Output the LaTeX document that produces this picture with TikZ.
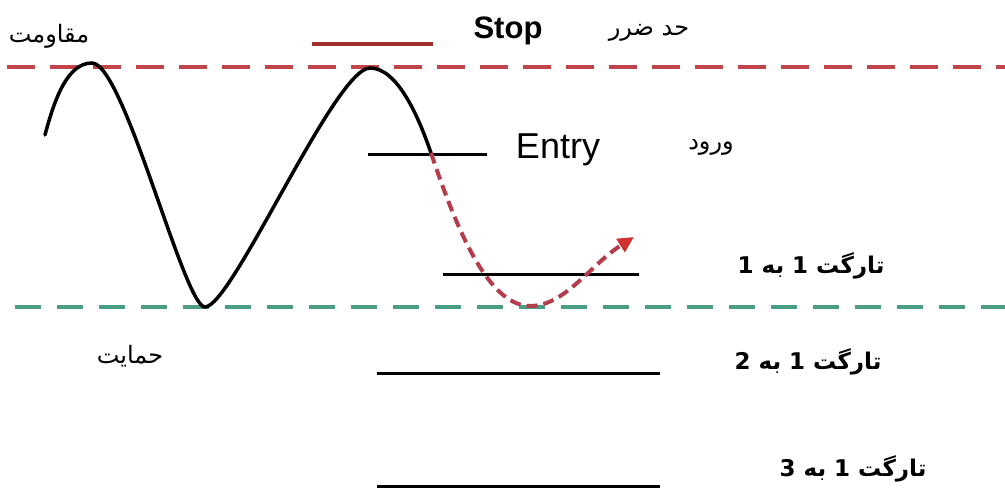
\documentclass[tikz,border=0pt]{standalone}
\usepackage{fontspec}
\setmainfont{Liberation Sans}
\newfontfamily\arabicfont[Script=Arabic]{DejaVu Sans}
\TeXXeTstate=1
\usetikzlibrary{arrows.meta}
\definecolor{resred}{HTML}{C04448}
\definecolor{stopred}{HTML}{A0302E}
\definecolor{supgreen}{HTML}{4A9E85}
\definecolor{pathred}{HTML}{B43C4C}
\definecolor{tipred}{HTML}{D03030}
\tikzset{
  resline/.style={draw=resred, line width=4pt, dash pattern=on 28pt off 15pt},
  supline/.style={draw=supgreen, line width=4pt, dash pattern=on 26pt off 16pt},
  level/.style={draw=black, line width=3pt},
  stoplevel/.style={draw=stopred, line width=4pt},
  wave/.style={draw=black, line width=3.5pt, line cap=round},
  move/.style={draw=pathred, line width=4pt, dash pattern=on 11pt off 6pt,
    -{Triangle[length=16pt,width=15pt,color=tipred]}},
  artxt/.style={font=\arabicfont\fontsize{24}{28}\selectfont, inner sep=0pt},
  tgtxt/.style={font=\arabicfont\bfseries\fontsize{23}{27}\selectfont, inner sep=0pt},
  entxt/.style={font=\fontsize{36}{42}\selectfont, inner sep=0pt},
}
\begin{document}
\begin{tikzpicture}[x=1pt,y=-1pt]
\useasboundingbox[fill=white] (0,0) rectangle (1005,489);
% horizontal levels
\coordinate (rA) at (7,67);   \coordinate (rB) at (1005,67);
\coordinate (gA) at (15,307); \coordinate (gB) at (1005,307);
\coordinate (sA) at (312,44); \coordinate (sB) at (433,44);
\coordinate (eA) at (368,155); \coordinate (eB) at (487,155);
\coordinate (aA) at (443,275); \coordinate (aB) at (639,275);
\coordinate (bA) at (377,373); \coordinate (bB) at (660,373);
\coordinate (cA) at (377,486); \coordinate (cB) at (660,486);
\draw[resline] (rA) -- (rB);
\draw[supline] (gA) -- (gB);
\draw[stoplevel] (sA) -- (sB);
\draw[level] (eA) -- (eB);
\draw[level] (aA) -- (aB);
\draw[level] (bA) -- (bB);
\draw[level] (cA) -- (cB);
% wave
\coordinate (w0) at (45,135);
\coordinate (p1) at (92,63);
\coordinate (t1) at (205,307);
\coordinate (p2) at (370,68);
\coordinate (en) at (431,153);
\coordinate (t2) at (530,306);
\coordinate (tip) at (634,237);
\draw[wave] (w0) .. controls (55,97) and (68,63) .. (p1)
  .. controls (124,63) and (184,307) .. (t1)
  .. controls (232,307) and (335,68) .. (p2)
  .. controls (397,68) and (418,115) .. (en);
\draw[move] (en) .. controls (452,215) and (485,306) .. (t2)
  .. controls (565,306) and (590,265) .. (tip);
% labels
\node[entxt, font=\bfseries\fontsize{31}{36}\selectfont] (stop) at (508,31) {Stop};
\node[entxt] (entry) at (558,150) {Entry};
\node[artxt] (stopfa) at (649,33) {\beginR حد ضرر\endR};
\node[artxt] (res) at (49,36) {\beginR مقاومت\endR};
\node[artxt] (entfa) at (711,147) {\beginR ورود\endR};
\node[artxt] (sup) at (130,356) {\beginR حمایت\endR};
\node[tgtxt] (t1l) at (811,266) {\beginR تارگت 1 به 1\endR};
\node[tgtxt] (t2l) at (808,362) {\beginR تارگت 1 به 2\endR};
\node[tgtxt] (t3l) at (853,469) {\beginR تارگت 1 به 3\endR};
\end{tikzpicture}
\end{document}
